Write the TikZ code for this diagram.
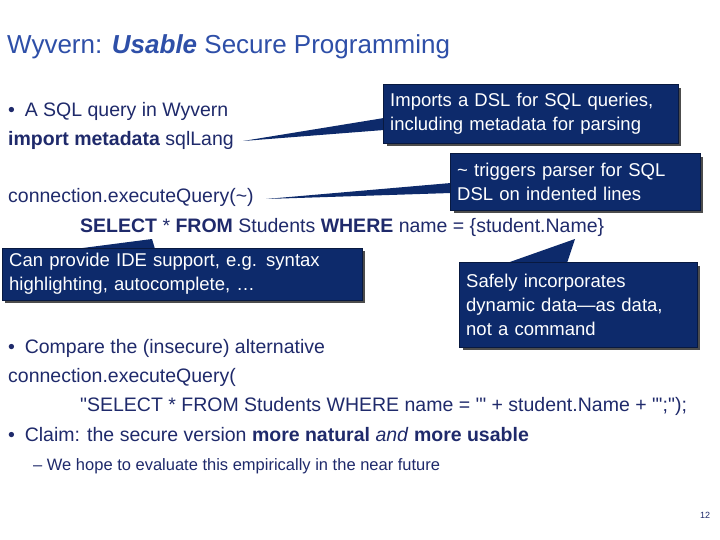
\documentclass[tikz,border=0pt]{standalone}
\usepackage{fontspec}
\setmainfont{Liberation Sans}
\definecolor{navy}{HTML}{0D2A6B}
\definecolor{ink}{HTML}{1F2A6B}
\definecolor{titleblue}{HTML}{2E4FA8}
\tikzset{
  txt/.style={anchor=base west, inner sep=0pt, text=ink, font=\fontsize{19.5}{22}\selectfont},
  callout/.style={fill=navy, draw=navy!60!black, text=white, anchor=north west, align=left,
    inner xsep=7pt, inner ysep=3pt, font=\fontsize{18.5}{24}\selectfont},
  shade/.style={fill=black!70}
}
\begin{document}
\begin{tikzpicture}[x=1pt,y=-1pt]
  \useasboundingbox[fill=white] (0,0) rectangle (720,540);

  % Titolo
  \node[txt, text=titleblue, font=\fontsize{26}{28}\selectfont] (title) at (7,54)
    {Wyvern: \textbf{\textit{Usable}} Secure Programming};

  % Testo
  \node[txt] (b1) at (8,117) {\textbullet\enspace A SQL query in Wyvern};
  \node[txt] (imp) at (8,146) {\textbf{import metadata} sqlLang};
  \node[txt] (exec) at (8,203) {connection.executeQuery(\textasciitilde)};
  \node[txt] (sel) at (80,233) {\textbf{SELECT} * \textbf{FROM} Students \textbf{WHERE} name = \{student.Name\}};
  \node[txt] (b2) at (8,353) {\textbullet\enspace Compare the (insecure) alternative};
  \node[txt] (exec2) at (8,382) {connection.executeQuery(};
  \node[txt] (str) at (80,411) {\textquotedbl SELECT * FROM Students WHERE name = \textquotesingle\textquotedbl\ + student.Name + \textquotedbl\textquotesingle;\textquotedbl);};
  \node[txt] (b3) at (8,441) {\textbullet\enspace Claim: the secure version \textbf{more natural} \textit{and} \textbf{more usable}};
  \node[txt, font=\fontsize{16.5}{18}\selectfont] (sub) at (33,470) {\textendash\ We hope to evaluate this empirically in the near future};
  \node[txt, font=\fontsize{9}{10}\selectfont] (num) at (700,518) {12};

  % Ombre
  \fill[shade] (387,88) rectangle (681,146);
  \fill[shade] (454,157) rectangle (703,213);
  \fill[shade] (5,251) rectangle (365,303);
  \fill[shade] (463,266) rectangle (700,350);

  % Fumetti
  \coordinate (t1) at (243,141);
  \coordinate (t2) at (266,199);
  \coordinate (t3) at (152,239);
  \coordinate (t4) at (575,239);
  \fill[navy] (t1) -- (384,118) -- (384,130) -- cycle;
  \fill[navy] (t2) -- (451,183) -- (451,193) -- cycle;
  \fill[navy] (t3) -- (75,249) -- (155,249) -- cycle;
  \fill[navy] (t4) -- (507,263) -- (567,263) -- cycle;
  \node[callout, minimum width=295pt, minimum height=59pt, text width=281pt] (c1) at (383,84)
    {Imports a DSL for SQL queries,\\including metadata for parsing};
  \node[callout, minimum width=250pt, minimum height=57pt, text width=236pt] (c2) at (450,153)
    {\textasciitilde\ triggers parser for SQL\\DSL on indented lines};
  \node[callout, minimum width=360pt, minimum height=52pt, text width=346pt] (c3) at (2,248)
    {Can provide IDE support, e.g. syntax\\highlighting, autocomplete, \dots};
  \node[callout, minimum width=238pt, minimum height=85pt, text width=224pt] (c4) at (459,262)
    {Safely incorporates\\dynamic data\textemdash as data,\\not a command};
\end{tikzpicture}
\end{document}
